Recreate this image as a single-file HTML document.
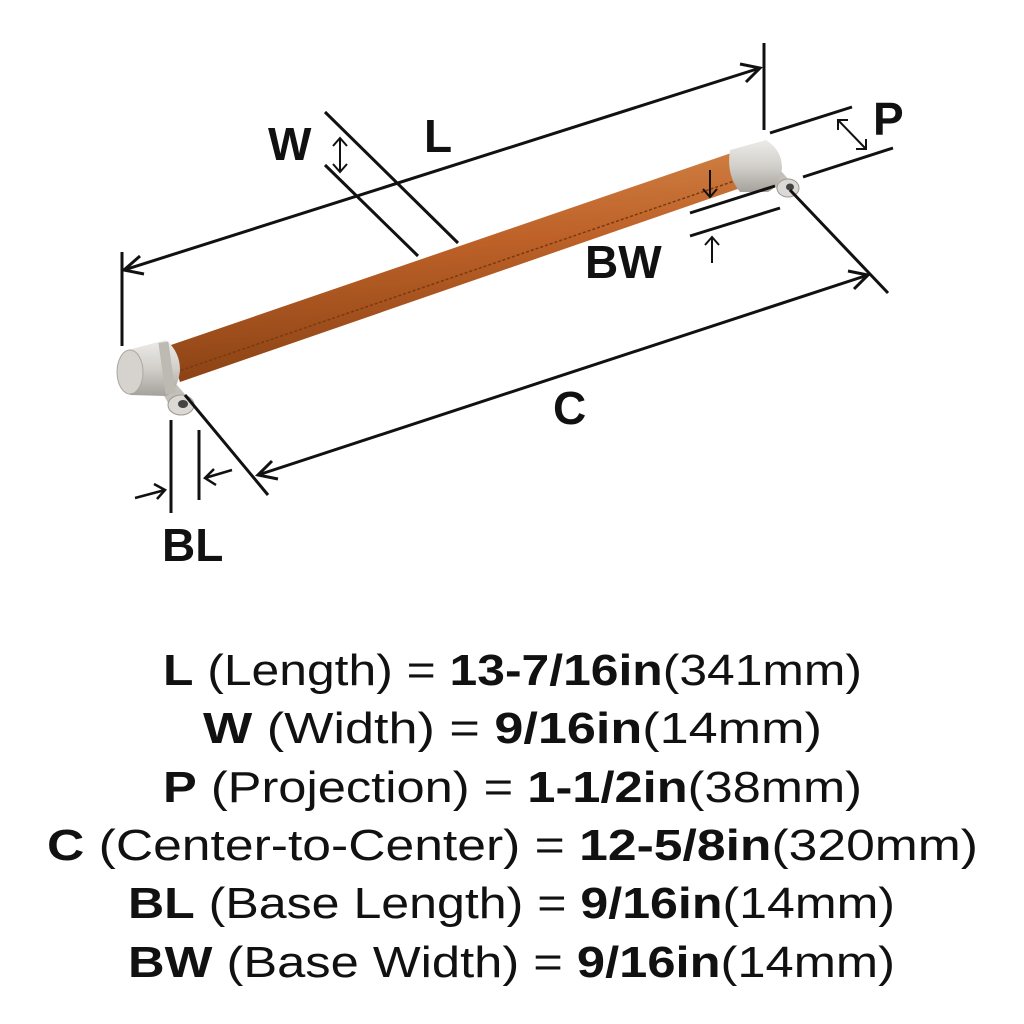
<!DOCTYPE html>
<html><head><meta charset="utf-8"><style>html,body{margin:0;padding:0;background:#fff}svg{display:block}</style></head>
<body>
<svg width="1024" height="1024" viewBox="0 0 1024 1024" xmlns="http://www.w3.org/2000/svg">
<defs>
<linearGradient id="lea" x1="0" y1="0" x2="0.12" y2="1">
<stop offset="0" stop-color="#d4874a"/><stop offset="0.45" stop-color="#bd6128"/><stop offset="1" stop-color="#8a4214"/>
</linearGradient>
<linearGradient id="met" x1="0" y1="0" x2="0" y2="1">
<stop offset="0" stop-color="#ecebe8"/><stop offset="0.5" stop-color="#d3d0cb"/><stop offset="1" stop-color="#a5a19b"/>
</linearGradient>
</defs>
<!-- leather bar -->
<polygon points="168,346 740,150 752,184 180,382" fill="url(#lea)"/>
<line x1="176" y1="372" x2="746" y2="177" stroke="#7a3a10" stroke-width="1.5" stroke-dasharray="3,2"/>
<!-- left cap -->
<polygon points="158,385 176,384 190,400 172,410" fill="#c3bfb9"/>
<ellipse cx="181" cy="405" rx="13" ry="10" fill="#dcd9d4" stroke="#9d9993"/>
<ellipse cx="183" cy="404" rx="5" ry="4" fill="#444"/>
<path d="M128,350 L166,340 Q180,352 180,370 Q178,390 166,396 L130,395 Z" fill="url(#met)"/>
<rect x="162" y="342" width="10" height="52" fill="#bdb9b3" transform="rotate(-8 167 368)"/>
<ellipse cx="130" cy="372" rx="13" ry="22" fill="#d6d3ce" stroke="#aaa6a0"/>
<!-- right cap -->
<polygon points="766,172 782,172 794,186 780,194" fill="#c3bfb9"/>
<ellipse cx="788" cy="188" rx="11" ry="9" fill="#dcd9d4" stroke="#9d9993"/>
<ellipse cx="790" cy="187" rx="4" ry="3.5" fill="#444"/>
<path d="M730,150 L766,140 Q782,150 782,168 Q780,186 768,192 L740,192 Q726,175 730,150 Z" fill="url(#met)"/>
<g stroke="#111" stroke-width="3" fill="none" stroke-linecap="butt">
<line x1="122" y1="252" x2="122" y2="346"/>
<line x1="764" y1="43" x2="764" y2="130"/>
<line x1="124" y1="270" x2="760" y2="68"/>
<polyline points="140,256 124,270 144,274"/>
<polyline points="740,64 760,68 746,82"/>
<line x1="325" y1="112" x2="458" y2="243"/>
<line x1="325" y1="165" x2="418" y2="256"/>
<line x1="340" y1="138" x2="340" y2="172" stroke-width="2"/>
<polyline points="333,146 340,138 347,146" stroke-width="2"/>
<polyline points="333,164 340,172 347,164" stroke-width="2"/>
<line x1="770" y1="133" x2="852" y2="107"/>
<line x1="803" y1="177" x2="893" y2="148"/>
<line x1="838" y1="120" x2="866" y2="149" stroke-width="2"/>
<polyline points="838,130 838,120 848,120" stroke-width="2"/>
<polyline points="856,149 866,149 866,139" stroke-width="2"/>
<line x1="690" y1="213" x2="775" y2="186"/>
<line x1="690" y1="236" x2="780" y2="208"/>
<line x1="710" y1="170" x2="710" y2="197" stroke-width="2"/>
<polyline points="703,189 710,197 717,189" stroke-width="2"/>
<line x1="712" y1="237" x2="712" y2="263" stroke-width="2"/>
<polyline points="705,245 712,237 719,245" stroke-width="2"/>
<line x1="185" y1="395" x2="268" y2="495"/>
<line x1="790" y1="190" x2="888" y2="293"/>
<line x1="258" y1="475" x2="868" y2="275"/>
<polyline points="272,461 258,475 278,479"/>
<polyline points="848,271 868,275 854,289"/>
<line x1="171" y1="420" x2="171" y2="513"/>
<line x1="199" y1="430" x2="199" y2="500"/>
<line x1="135" y1="498" x2="165" y2="490" stroke-width="2.5"/>
<polyline points="154,484 165,490 157,499" stroke-width="2.5"/>
<line x1="232" y1="470" x2="205" y2="478" stroke-width="2.5"/>
<polyline points="214,469 205,478 216,485" stroke-width="2.5"/>
</g>
<g font-family="Liberation Sans, sans-serif" font-weight="bold" fill="#111" font-size="46">
<text x="268" y="160">W</text>
<text x="424" y="152">L</text>
<text x="873" y="135">P</text>
<text x="585" y="278">BW</text>
<text x="553" y="424">C</text>
<text x="162" y="561">BL</text>
</g>
<g font-family="Liberation Sans, sans-serif" fill="#111" font-size="44">
<text x="163" y="685" textLength="699" lengthAdjust="spacingAndGlyphs"><tspan font-weight="bold">L</tspan> (Length) = <tspan font-weight="bold">13-7/16in</tspan>(341mm)</text>
<text x="203" y="743" textLength="619" lengthAdjust="spacingAndGlyphs"><tspan font-weight="bold">W</tspan> (Width) = <tspan font-weight="bold">9/16in</tspan>(14mm)</text>
<text x="163" y="802" textLength="699" lengthAdjust="spacingAndGlyphs"><tspan font-weight="bold">P</tspan> (Projection) = <tspan font-weight="bold">1-1/2in</tspan>(38mm)</text>
<text x="47" y="860" textLength="931" lengthAdjust="spacingAndGlyphs"><tspan font-weight="bold">C</tspan> (Center-to-Center) = <tspan font-weight="bold">12-5/8in</tspan>(320mm)</text>
<text x="128" y="918" textLength="767" lengthAdjust="spacingAndGlyphs"><tspan font-weight="bold">BL</tspan> (Base Length) = <tspan font-weight="bold">9/16in</tspan>(14mm)</text>
<text x="128" y="977" textLength="767" lengthAdjust="spacingAndGlyphs"><tspan font-weight="bold">BW</tspan> (Base Width) = <tspan font-weight="bold">9/16in</tspan>(14mm)</text>
</g>
</svg>
</body></html>
